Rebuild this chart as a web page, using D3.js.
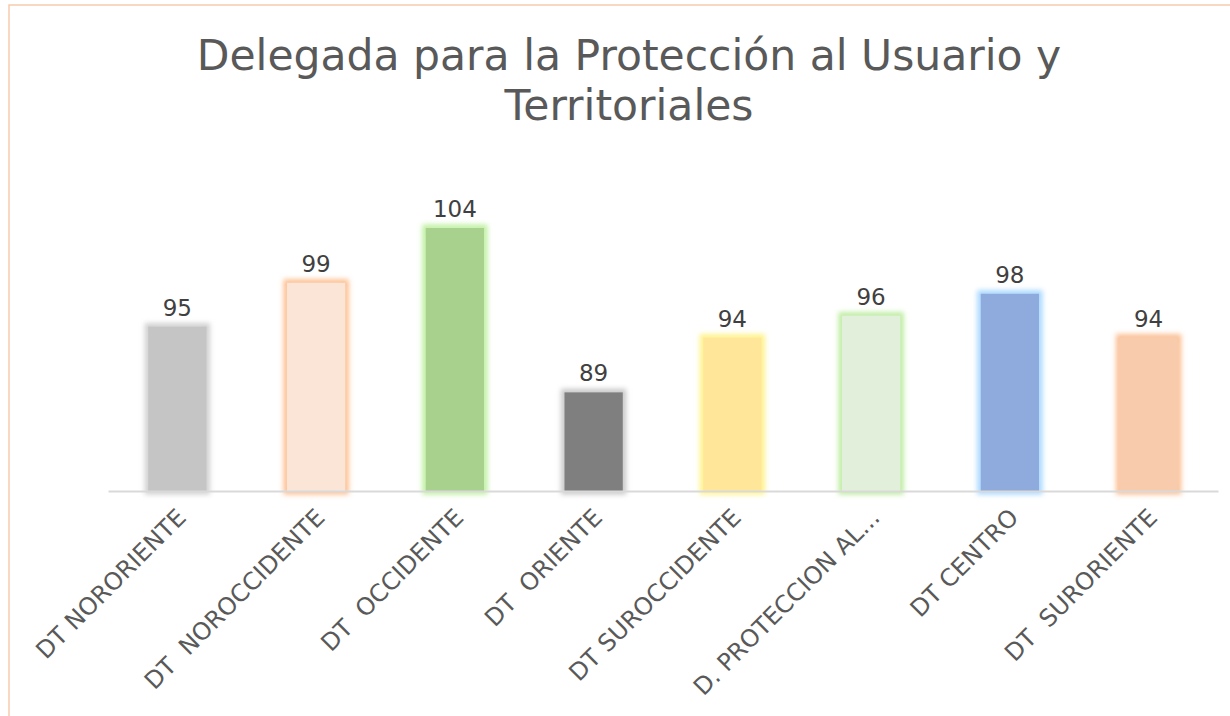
<!DOCTYPE html>
<html><head><meta charset="utf-8">
<script src="https://cdn.jsdelivr.net/npm/d3@7"></script>
<style>
html,body{margin:0;padding:0;background:#fff;}
svg text{font-family:"DejaVu Sans",Verdana,sans-serif;white-space:pre;}
</style></head>
<body><div id="chart"></div>
<script>
const categories = ["DT NORORIENTE","DT  NOROCCIDENTE","DT  OCCIDENTE","DT  ORIENTE","DT SUROCCIDENTE","D. PROTECCION AL...","DT CENTRO","DT  SURORIENTE"];
const values = [95, 99, 104, 89, 94, 96, 98, 94];
const fillColors = ["#c6c5c6","#fbe5d6","#a9d18e","#7f7f7f","#ffe699","#e2efda","#8faadc","#f8cbad"];
const glowColors = ["#d0d0d0","#fdbf90","#bff0a0","#c8c8c8","#fff38a","#bdeca0","#a8d8ff","#fbbf94"];
const titleLines = ["Delegada para la Protección al Usuario y","Territoriales"];

const W = 1230, H = 716;
const svg = d3.select("#chart").append("svg").attr("width", W).attr("height", H);
const defs = svg.append("defs");
const f = defs.append("filter").attr("id","glow").attr("x","-50%").attr("y","-50%").attr("width","200%").attr("height","200%");
f.append("feGaussianBlur").attr("stdDeviation", 2.4);

// outer border
svg.append("rect").attr("x",9).attr("y",5).attr("width",W).attr("height",H)
  .attr("fill","none").attr("stroke","#f8cbad").attr("stroke-width",1.5);

// title
svg.append("text").attr("x",629).attr("y",70).attr("text-anchor","middle")
  .attr("font-size",42.5).attr("fill","#595959")
  .selectAll("tspan").data(titleLines).join("tspan")
  .attr("x",629).attr("dy",(d,i)=> i===0?0:50).text(d=>d);

const x = d3.scaleBand().domain(categories).range([108,1218]).paddingInner(0.58).paddingOuter(0.29);
const y = d3.scaleLinear().domain([80,104]).range([491,228]);

const g = svg.append("g");
// glow
g.selectAll("rect.glow").data(values).join("rect").attr("class","glow")
  .attr("x",(d,i)=>x(categories[i])).attr("width",x.bandwidth())
  .attr("y",d=>y(d)).attr("height",d=>y(80)-y(d))
  .attr("fill","none").attr("stroke",(d,i)=>glowColors[i]).attr("stroke-width",7)
  .attr("filter","url(#glow)");
g.selectAll("rect.bar").data(values).join("rect").attr("class","bar")
  .attr("x",(d,i)=>x(categories[i])).attr("width",x.bandwidth())
  .attr("y",d=>y(d)).attr("height",d=>y(80)-y(d))
  .attr("fill",(d,i)=>fillColors[i]);

// axis
const axis = svg.append("g").attr("transform","translate(0,491)").call(d3.axisBottom(x).tickSize(0).tickPadding(0));
axis.select(".domain").attr("stroke","#d9d9d9").attr("stroke-width",2);
axis.selectAll(".tick text").attr("font-size",24).attr("fill","#595959")
  .attr("text-anchor","end").attr("dy",null).attr("y",0)
  .attr("transform","translate(10,28) rotate(-45)")
  .style("font-family","DejaVu Sans, Verdana, sans-serif");

// value labels
svg.append("g").selectAll("text").data(values).join("text")
  .attr("x",(d,i)=>x(categories[i])+x.bandwidth()/2).attr("y",d=>y(d)-11)
  .attr("text-anchor","middle").attr("font-size",23).attr("fill","#404040")
  .text(d=>d);
</script></body></html>
